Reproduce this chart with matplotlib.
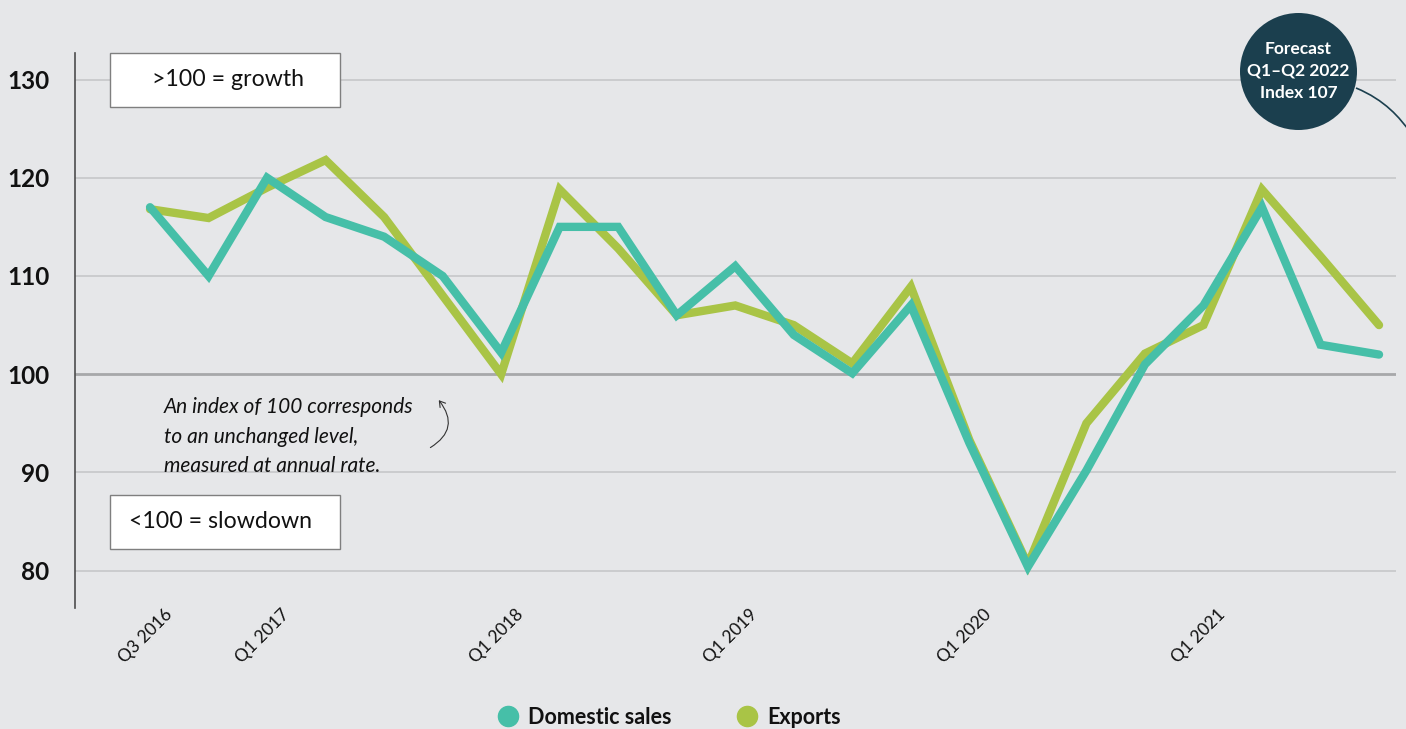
import matplotlib
matplotlib.use("Agg")
import matplotlib.pyplot as plt
from matplotlib.lines import Line2D
from matplotlib.patches import Ellipse, PathPatch, FancyArrowPatch
from matplotlib.path import Path
import matplotlib.transforms as mtransforms

plt.rcParams['font.family'] = ['Lato', 'DejaVu Sans']

# ---------------- data ----------------
quarters = ["Q3 2016", "Q4 2016",
            "Q1 2017", "Q2 2017", "Q3 2017", "Q4 2017",
            "Q1 2018", "Q2 2018", "Q3 2018", "Q4 2018",
            "Q1 2019", "Q2 2019", "Q3 2019", "Q4 2019",
            "Q1 2020", "Q2 2020", "Q3 2020", "Q4 2020",
            "Q1 2021", "Q2 2021", "Q3 2021", "Q4 2021"]
domestic = [117, 110, 120, 116, 114, 110, 102.2, 115, 115, 106, 111, 104,
            100.1, 107, 93, 80.4, 90.2, 101, 107, 117, 103, 102]
exports = [116.8, 115.9, 119, 121.8, 116, 108, 100, 118.8, 112.8, 106, 107, 105,
           101.1, 108.9, 93.3, 80.6, 95, 102.1, 105, 118.8, 112, 105]
tick_labels = ["Q3 2016", "Q1 2017", "Q1 2018", "Q1 2019", "Q1 2020", "Q1 2021"]
y_ticks = [80, 90, 100, 110, 120, 130]
series_names = ["Domestic sales", "Exports"]

# ---------------- style ----------------
BG = "#e6e7e9"
C_DOM = "#46bfa8"
C_EXP = "#a9c446"
C_CIRCLE = "#1b3f4e"
W, H = 1406, 729

fig = plt.figure(figsize=(W / 100, H / 100), dpi=100, facecolor=BG)

def fx(x):
    return x / W

def fy(y):
    return 1 - y / H

ax_left, ax_right, ax_top, ax_bottom = 75, 1396, 53, 608
ax = fig.add_axes([fx(ax_left), fy(ax_bottom), (ax_right - ax_left) / W,
                   (ax_bottom - ax_top) / H])
ax.set_facecolor(BG)

x = list(range(len(quarters)))
ax.set_xlim(-1.282, 21.29)
ax.set_ylim(76.2, 132.7)

# gridlines
for yv in y_ticks:
    if yv == 100:
        ax.axhline(yv, color="#a7a8aa", lw=2.0, zorder=1)
    else:
        ax.axhline(yv, color="#c3c4c6", lw=1.1, zorder=1)

ax.plot(x, exports, color=C_EXP, lw=6, solid_capstyle="round",
        solid_joinstyle="miter", zorder=3)
ax.plot(x, domestic, color=C_DOM, lw=6, solid_capstyle="round",
        solid_joinstyle="miter", zorder=4)

for s in ["top", "right", "bottom"]:
    ax.spines[s].set_visible(False)
ax.spines["left"].set_color("#4d4d4d")
ax.spines["left"].set_linewidth(1.2)

ax.set_yticks(y_ticks)
ax.set_yticklabels([str(v) for v in y_ticks], fontsize=17.5, fontweight="bold",
                   color="#111111")
ax.tick_params(axis="y", length=0, pad=18.5)

tick_pos = [quarters.index(q) for q in tick_labels]
ax.set_xticks(tick_pos)
ax.set_xticklabels(tick_labels, rotation=45, ha="right", va="top",
                   fontsize=12.5, color="#111111")
ax.tick_params(axis="x", length=0, pad=0)
offset = mtransforms.ScaledTranslation(25 / 100, 2 / 100, fig.dpi_scale_trans)
for lab in ax.get_xticklabels():
    lab.set_transform(lab.get_transform() + offset)

# ---------------- boxes ----------------
def box(x0, y0, x1, y1, text, tx):
    r = plt.Rectangle((fx(x0), fy(y1)), (x1 - x0) / W, (y1 - y0) / H,
                      transform=fig.transFigure, facecolor="white",
                      edgecolor="#7f7f7f", lw=1.0, zorder=5)
    fig.patches.append(r)
    fig.text(fx(tx), fy((y0 + y1) / 2), text, ha="center", va="center",
             fontsize=16.7, color="#111111", zorder=6)

box(110, 53, 340, 107, ">100 = growth", 228)
box(110, 495, 340, 549, "<100 = slowdown", 220)

# italic note
for line, yy in [("An index of 100 corresponds", 407),
                 ("to an unchanged level,", 437),
                 ("measured at annual rate.", 466)]:
    fig.text(fx(164), fy(yy), line, ha="left", va="center", fontsize=15,
             style="italic", color="#111111")

fig.add_artist(FancyArrowPatch(
    (fx(428), fy(449)), (fx(437), fy(398)), transform=fig.transFigure,
    connectionstyle="arc3,rad=0.6", arrowstyle="->,head_length=4,head_width=2.5",
    color="#333333", lw=0.8))

# ---------------- forecast bubble ----------------
cx, cy, r = 1298.5, 71.5, 58.5
circ = Ellipse((fx(cx), fy(cy)), 2 * r / W, 2 * r / H, transform=fig.transFigure,
               facecolor=C_CIRCLE, edgecolor="none", zorder=7)
fig.patches.append(circ)
for txt, yy in [("Forecast", 49), ("Q1\u2013Q2 2022", 71), ("Index 107", 93)]:
    fig.text(fx(cx), fy(yy), txt, ha="center", va="center", fontsize=12.5,
             fontweight="bold", color="white", zorder=8)

verts = [(fx(1356), fy(88)), (fx(1385), fy(100)), (fx(1400), fy(118)),
         (fx(1410), fy(132))]
conn = PathPatch(Path(verts, [Path.MOVETO, Path.CURVE4, Path.CURVE4, Path.CURVE4]),
                 transform=fig.transFigure, facecolor="none",
                 edgecolor=C_CIRCLE, lw=1.2, zorder=7)
fig.patches.append(conn)

# ---------------- legend ----------------
handles = [Line2D([], [], marker="o", ls="none", markersize=14.5,
                  markerfacecolor=c, markeredgecolor=c)
           for c in (C_DOM, C_EXP)]
leg = fig.legend(handles, series_names, loc="center",
                 bbox_to_anchor=(fx(669), fy(717)), ncol=2, frameon=False,
                 prop={"weight": "bold", "size": 15.5}, handletextpad=0.45,
                 columnspacing=3.0, handlelength=1.0, borderpad=0)
for t in leg.get_texts():
    t.set_color("#111111")

fig.savefig("out.png", dpi=100, facecolor=BG)
